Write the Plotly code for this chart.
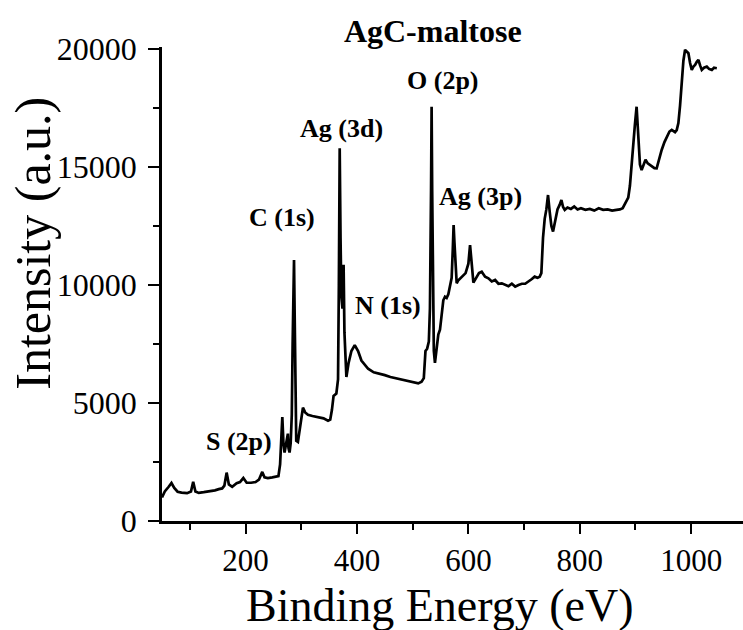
import plotly.graph_objects as go

# Binding energy (eV) and intensity (a.u.)
binding_energy = [50, 55, 62, 67, 72, 78, 85, 95, 102, 106, 110, 116, 125, 135, 145, 152, 158, 162, 166, 170,
                  176, 184, 190, 196, 202, 210, 218, 224, 230, 234, 240, 248, 255, 259, 262, 264, 266, 268, 270, 273,
                  276, 277, 279, 281, 283, 284.5, 286, 287, 288, 289.5, 291, 294, 298, 303, 307, 312, 320, 330, 340, 348,
                  352, 355, 358, 363, 366, 367.5, 369, 370.5, 372, 374, 376, 377.5, 379, 381, 385, 390, 396, 402, 408, 414,
                  420, 430, 440, 450, 460, 470, 480, 490, 500, 510, 516, 520, 523, 526, 529, 531, 533, 534, 535, 536.5,
                  538, 540, 543, 546, 549, 552, 555, 558, 561, 564, 567, 570, 572, 573.5, 575, 577, 579, 582, 586, 590,
                  595, 600, 603, 606, 609, 614, 619, 624, 630, 636, 642, 648, 654, 660, 666, 672, 678, 684, 690, 696,
                  702, 708, 714, 719, 724, 728, 731, 734, 737, 740, 743, 746, 749, 752, 756, 760, 764, 767, 770, 773,
                  778, 784, 790, 796, 802, 810, 818, 826, 834, 842, 850, 858, 866, 872, 877, 882, 887, 890, 893, 896,
                  899, 902, 904, 906, 908, 911, 914, 918, 922, 926, 930, 934, 938, 942, 947, 952, 956, 961, 965, 968,
                  971, 974, 977, 980, 983, 986, 989, 992, 995, 998, 1001, 1004, 1007, 1010, 1013, 1016, 1019, 1023, 1028, 1032,
                  1037, 1041, 1046]
intensity = [1000, 1250, 1450, 1610, 1400, 1240, 1200, 1180, 1250, 1660, 1250, 1190, 1220, 1250, 1300, 1350, 1380, 1500, 2050, 1550,
             1450, 1600, 1650, 1820, 1620, 1620, 1650, 1750, 2080, 1850, 1820, 1850, 1880, 1900, 2400, 3200, 4400, 3300, 2900, 3300,
             3700, 3100, 2900, 3300, 4500, 7500, 10000, 11060, 9000, 5000, 3400, 3350, 4000, 4800, 4600, 4500, 4450, 4400, 4350, 4250,
             4300, 4700, 5300, 5400, 6000, 10000, 15790, 12000, 9500, 9000, 10850, 8000, 6800, 6100, 6700, 7200, 7450, 7200, 6800, 6600,
             6450, 6300, 6250, 6180, 6100, 6050, 6000, 5950, 5900, 5830, 5900, 6050, 7200, 7300, 7600, 9000, 14000, 17550, 14000, 8500,
             7200, 6700, 7300, 7900, 8100, 8900, 9350, 9500, 9450, 9600, 9900, 10300, 11500, 12540, 11800, 10600, 10070, 10200, 10300, 10400,
             10500, 10900, 11690, 10900, 10100, 10300, 10500, 10560, 10350, 10280, 10150, 10210, 10050, 10070, 10000, 9950, 10050, 9930, 10000, 10050,
             10050, 10140, 10250, 10350, 10300, 10350, 10500, 12000, 12800, 13200, 13810, 13100, 12500, 12260, 12700, 13200, 13400, 13600, 13300, 13180,
             13280, 13220, 13320, 13200, 13250, 13180, 13220, 13150, 13250, 13180, 13200, 13150, 13180, 13200, 13250, 13450, 13700, 14200, 15200, 16000,
             16800, 17550, 16600, 15860, 15100, 14870, 15100, 15300, 15150, 15080, 15000, 14950, 14940, 15300, 15720, 16050, 16280, 16500, 16570, 16500,
             16470, 16560, 16860, 17600, 18560, 19500, 19960, 19900, 19815, 19400, 19110, 19250, 19320, 19450, 19530, 19300, 19110, 19200, 19250, 19150,
             19110, 19200, 19180]

# Peak labels and their positions (eV, intensity)
peak_labels = ["O (2p)", "Ag (3d)", "C (1s)", "Ag (3p)", "N (1s)", "S (2p)"]
label_x = [554, 372, 266, 622, 455, 187.5]
label_y = [18640, 16610, 12840, 13730, 9110, 3350]

x_ticks = [200, 400, 600, 800, 1000]
x_tick_text = ["200", "400", "600", "800", "1000"]
y_ticks = [0, 5000, 10000, 15000, 20000]
y_tick_text = ["0", "5000", "10000", "15000", "20000"]

serif = "Liberation Serif, Times New Roman, serif"

fig = go.Figure()
fig.add_trace(go.Scatter(x=binding_energy, y=intensity, mode="lines",
                         line=dict(color="black", width=2.7), showlegend=False,
                         cliponaxis=False))

for t, xx, yy in zip(peak_labels, label_x, label_y):
    fig.add_annotation(x=xx, y=yy, xref="x", yref="y", text="<b>%s</b>" % t,
                       showarrow=False, xanchor="center", yanchor="middle",
                       font=dict(family=serif, size=26, color="black"))

# axis titles placed as free text
fig.add_annotation(x=-0.222, y=0.585, xref="paper", yref="paper", text="Intensity (a.u.)",
                   textangle=-90, showarrow=False, xanchor="center", yanchor="middle",
                   font=dict(family=serif, size=50, color="black"))
fig.add_annotation(x=0.478, y=-0.178, xref="paper", yref="paper", text="Binding Energy (eV)",
                   showarrow=False, xanchor="center", yanchor="middle",
                   font=dict(family=serif, size=46, color="black"))

fig.update_layout(
    width=743, height=630,
    margin=dict(l=162, r=0, t=47, b=109, autoexpand=False),
    paper_bgcolor="white", plot_bgcolor="white",
    title=dict(text="<b>AgC-maltose</b>", x=0.466, xref="paper", xanchor="center",
               y=1 - 31 / 630, yref="container", yanchor="middle",
               font=dict(family=serif, size=32, color="black")),
    font=dict(family=serif, color="black"),
)

fig.update_xaxes(range=[50, 1093], tickvals=x_ticks, ticktext=x_tick_text, ticks="outside", ticklen=10, tickwidth=2,
                 tickcolor="black", showline=True, linecolor="black", linewidth=2.5,
                 showgrid=False, zeroline=False, automargin=False,
                 tickfont=dict(family=serif, size=31, color="black"),
                 minor=dict(dtick=100, tick0=0, ticks="outside", ticklen=6, tickwidth=2, tickcolor="black", showgrid=False))
fig.update_yaxes(range=[0, 20080], tickvals=y_ticks, ticktext=y_tick_text, ticks="outside", ticklen=11, tickwidth=2,
                 tickcolor="black", showline=True, linecolor="black", linewidth=2.5,
                 showgrid=False, zeroline=False, automargin=False, ticklabelstandoff=5,
                 tickfont=dict(family=serif, size=32, color="black"),
                 minor=dict(dtick=2500, tick0=0, ticks="outside", ticklen=6, tickwidth=2, tickcolor="black", showgrid=False))

fig.write_html("out.html")
